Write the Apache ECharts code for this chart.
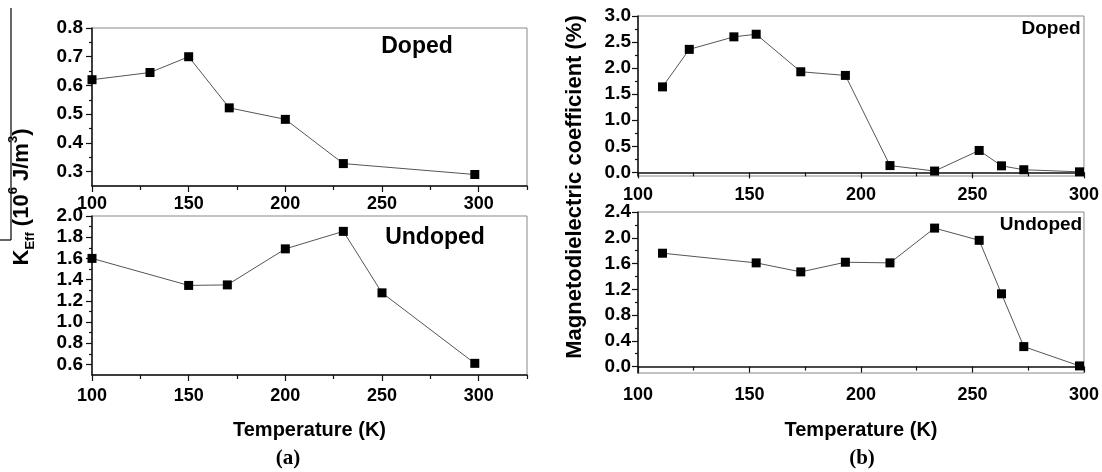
<!DOCTYPE html>
<html>
<head>
<meta charset="utf-8">
<script src="https://cdn.jsdelivr.net/npm/echarts@6/dist/echarts.min.js"></script>
<style>
html, body { margin: 0; padding: 0; background: #fff; }
#main { width: 1102px; height: 472px; }
</style>
</head>
<body>
<div id="main"></div>
<script>
// (a) anisotropy constant vs temperature
var tempDopedA   = [100, 130, 150, 171, 200, 230, 298];
var keffDoped    = [0.62, 0.645, 0.70, 0.522, 0.482, 0.328, 0.29];
var tempUndopedA = [100, 150, 170, 200, 230, 250, 298];
var keffUndoped  = [1.60, 1.345, 1.35, 1.69, 1.855, 1.275, 0.61];

// (b) magnetodielectric coefficient vs temperature
var tempDopedB   = [111, 123, 143, 153, 173, 193, 213, 233, 253, 263, 273, 298];
var mdDoped      = [1.64, 2.36, 2.60, 2.65, 1.93, 1.86, 0.13, 0.025, 0.42, 0.125, 0.05, 0.01];
var tempUndopedB = [111, 153, 173, 193, 213, 233, 253, 263, 273, 298];
var mdUndoped    = [1.76, 1.61, 1.47, 1.62, 1.61, 2.15, 1.96, 1.13, 0.31, 0.01];

// tick labels
var xTicks      = [100, 150, 200, 250, 300];
var xMinorA     = [125, 175, 225, 275, 325];
var xMinorB     = [125, 175, 225, 275];
var yTicksA1    = [0.3, 0.4, 0.5, 0.6, 0.7, 0.8];
var yMinorA1    = [0.35, 0.45, 0.55, 0.65, 0.75];
var yTicksA2    = [0.6, 0.8, 1.0, 1.2, 1.4, 1.6, 1.8, 2.0];
var yMinorA2    = [0.7, 0.9, 1.1, 1.3, 1.5, 1.7, 1.9];
var yTicksB1    = [0.0, 0.5, 1.0, 1.5, 2.0, 2.5, 3.0];
var yMinorB1    = [0.25, 0.75, 1.25, 1.75, 2.25, 2.75];
var yTicksB2    = [0.0, 0.4, 0.8, 1.2, 1.6, 2.0, 2.4];
var yMinorB2    = [0.2, 0.6, 1.0, 1.4, 1.8, 2.2];

var FONT = '"Liberation Sans", Arial, sans-serif';

function xMain(grid, min, max, margin, name, gap) {
	return {
		type: 'value', gridIndex: grid, min: min, max: max, position: 'bottom',
		axisLine: { show: true, lineStyle: { color: '#111', width: 1.5 } },
		axisTick: { show: true, length: 6, lineStyle: { color: '#111', width: 1.2 }, customValues: xTicks },
		axisLabel: { customValues: xTicks, margin: margin, color: '#000', fontSize: 18, fontWeight: 'bold', fontFamily: FONT },
		splitLine: { show: false },
		name: name, nameLocation: 'middle', nameGap: gap,
		nameTextStyle: { color: '#000', fontSize: 20, fontWeight: 'bold', fontFamily: FONT }
	};
}
function xMinor(grid, min, max, ticks) {
	return {
		type: 'value', gridIndex: grid, min: min, max: max, position: 'bottom',
		axisLine: { show: false },
		axisTick: { show: true, length: 4, lineStyle: { color: '#111', width: 1.2 }, customValues: ticks },
		axisLabel: { show: false },
		splitLine: { show: false }
	};
}
function yMain(grid, min, max, ticks, margin, size) {
	return {
		type: 'value', gridIndex: grid, min: min, max: max, position: 'left',
		axisLine: { show: true, lineStyle: { color: '#111', width: 1.5 } },
		axisTick: { show: true, length: 6, lineStyle: { color: '#111', width: 1.2 }, customValues: ticks },
		axisLabel: {
			customValues: ticks, margin: margin, color: '#000', fontSize: size, fontWeight: 'bold', fontFamily: FONT,
			formatter: function (v) { return v.toFixed(1); }
		},
		splitLine: { show: false }
	};
}
function yMinor(grid, min, max, ticks) {
	return {
		type: 'value', gridIndex: grid, min: min, max: max, position: 'left',
		axisLine: { show: false },
		axisTick: { show: true, length: 3, lineStyle: { color: '#111', width: 1.2 }, customValues: ticks },
		axisLabel: { show: false },
		splitLine: { show: false }
	};
}
function pts(xs, ys) {
	return xs.map(function (x, i) { return [x, ys[i]]; });
}
function line(idx, xs, ys) {
	return {
		type: 'line', xAxisIndex: idx, yAxisIndex: idx,
		data: pts(xs, ys),
		symbol: 'rect', symbolSize: 9,
		itemStyle: { color: '#000' },
		lineStyle: { color: '#555', width: 1 },
		animation: false
	};
}
function label(text, x, y, size) {
	return {
		type: 'text', x: x, y: y,
		style: { text: text, fill: '#000', font: 'bold ' + size + 'px ' + FONT, align: 'center', verticalAlign: 'middle' }
	};
}

var gridStyle = { show: true, borderColor: '#888', borderWidth: 1, backgroundColor: 'transparent' };

var option = {
	backgroundColor: '#fff',
	animation: false,
	grid: [
		Object.assign({ left: 92, top: 28, width: 435, height: 158 }, gridStyle),
		Object.assign({ left: 92, top: 216, width: 435, height: 159 }, gridStyle),
		Object.assign({ left: 638, top: 16, width: 449, height: 160 }, gridStyle),
		Object.assign({ left: 638, top: 212, width: 449, height: 161 }, gridStyle)
	],
	xAxis: [
		xMain(0, 100, 325, 9, '', 0),
		xMinor(0, 100, 325, xMinorA),
		xMain(1, 100, 325, 12, 'Temperature (K)', 45),
		xMinor(1, 100, 325, xMinorA),
		xMain(2, 100, 300, 10, '', 0),
		xMinor(2, 100, 300, xMinorB),
		xMain(3, 100, 300, 13, 'Temperature (K)', 47),
		xMinor(3, 100, 300, xMinorB)
	],
	yAxis: [
		yMain(0, 0.25, 0.8, yTicksA1, 9, 19),
		yMinor(0, 0.25, 0.8, yMinorA1),
		yMain(1, 0.5, 2.0, yTicksA2, 9, 19),
		yMinor(1, 0.5, 2.0, yMinorA2),
		yMain(2, -0.07, 3.0, yTicksB1, 7, 19),
		yMinor(2, -0.07, 3.0, yMinorB1),
		yMain(3, -0.1, 2.4, yTicksB2, 7, 19),
		yMinor(3, -0.1, 2.4, yMinorB2)
	],
	series: [
		line(0, tempDopedA, keffDoped),
		line(2, tempUndopedA, keffUndoped),
		line(4, tempDopedB, mdDoped),
		line(6, tempUndopedB, mdUndoped)
	],
	graphic: [
		label('Doped', 417, 47, 23),
		label('Undoped', 435, 238, 23),
		label('Doped', 1051, 29, 19),
		label('Undoped', 1041, 225, 19),
		{
			type: 'text', x: 575, y: 187, rotation: Math.PI / 2,
			style: { text: 'Magnetodielectric coefficient (%)', fill: '#000', font: 'bold 22px ' + FONT, align: 'center', verticalAlign: 'middle' }
		},
		{
			type: 'text', x: 22, y: 197, rotation: Math.PI / 2,
			style: {
				text: '{b|K}{s|Eff}{b| (10}{p|6}{b| J/m}{p|3}{b|)}',
				align: 'center', verticalAlign: 'middle',
				rich: {
					b: { fontSize: 22, fontWeight: 'bold', fontFamily: FONT, fill: '#000', lineHeight: 30 },
					s: { fontSize: 13, fontWeight: 'bold', fontFamily: FONT, fill: '#000', lineHeight: 14, verticalAlign: 'bottom' },
					p: { fontSize: 13, fontWeight: 'bold', fontFamily: FONT, fill: '#000', lineHeight: 14, verticalAlign: 'top' }
				}
			}
		},
		{ type: 'line', shape: { x1: 11, y1: 8, x2: 11, y2: 240 }, style: { stroke: '#000', lineWidth: 1.2 } },
		{ type: 'line', shape: { x1: 0, y1: 240, x2: 11, y2: 240 }, style: { stroke: '#000', lineWidth: 1.2 } },
		{
			type: 'text', x: 288, y: 459,
			style: { text: '(a)', fill: '#000', font: 'bold 21px "Liberation Serif", "Times New Roman", serif', align: 'center', verticalAlign: 'middle' }
		},
		{
			type: 'text', x: 862, y: 459,
			style: { text: '(b)', fill: '#000', font: 'bold 21px "Liberation Serif", "Times New Roman", serif', align: 'center', verticalAlign: 'middle' }
		}
	]
};

var myChart = echarts.init(document.getElementById('main'));
myChart.setOption(option);
</script>
</body>
</html>
